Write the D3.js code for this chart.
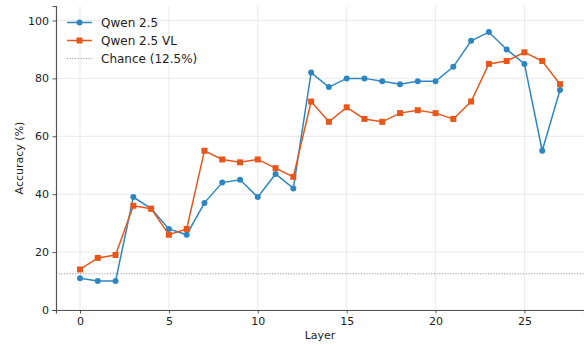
<!DOCTYPE html>
<html>
<head>
<meta charset="utf-8">
<script src="https://cdn.jsdelivr.net/npm/d3@7/dist/d3.min.js"></script>
<style>
  html, body { margin: 0; padding: 0; background: #fff; }
  svg { display: block; font-family: "DejaVu Sans", sans-serif; }
</style>
</head>
<body>
<svg id="chart" width="584" height="346"></svg>
<script>
// Layer-wise probing accuracy
const layers = d3.range(0, 28);
const qwen25 = [11, 10, 10, 39, 35, 28, 26, 37, 44, 45, 39, 47, 42, 82, 77, 80, 80, 79, 78, 79, 79, 84, 93, 96, 90, 85, 55, 76];
const qwen25vl = [14, 18, 19, 36, 35, 26, 28, 55, 52, 51, 52, 49, 46, 72, 65, 70, 66, 65, 68, 69, 68, 66, 72, 85, 86, 89, 86, 78];
const chance = 12.5;
const xTicks = [0, 5, 10, 15, 20, 25];
const yTicks = [0, 20, 40, 60, 80, 100];
const seriesNames = ["Qwen 2.5", "Qwen 2.5 VL", "Chance (12.5%)"];

const blue = "#2E86C1";
const orange = "#E8561A";

const svg = d3.select("#chart");
const m = { left: 56, right: 0, top: 6, bottom: 36 };
const W = 584, H = 346;

const x = d3.scaleLinear().domain([-1.35, 28.35]).range([m.left, W - m.right]);
const y = d3.scaleLinear().domain([0, 105]).range([H - m.bottom, m.top]);

// grid
const grid = svg.append("g");
grid.selectAll("line.gx").data(xTicks).join("line")
  .attr("x1", d => x(d)).attr("x2", d => x(d))
  .attr("y1", y(0)).attr("y2", y(105))
  .attr("stroke", "#e3e3e3").attr("stroke-width", 0.8);
grid.selectAll("line.gy").data(yTicks).join("line")
  .attr("x1", x(-1.35)).attr("x2", x(28.35))
  .attr("y1", d => y(d)).attr("y2", d => y(d))
  .attr("stroke", "#e3e3e3").attr("stroke-width", 0.8);

// chance line
svg.append("line")
  .attr("x1", x(-1.35)).attr("x2", x(28.35))
  .attr("y1", y(chance)).attr("y2", y(chance))
  .attr("stroke", "#888").attr("stroke-width", 1)
  .attr("stroke-dasharray", "1,1.7");

// axes
const xAxis = d3.axisBottom(x).tickValues(xTicks).tickSize(3.5).tickPadding(3.5);
const yAxis = d3.axisLeft(y).tickValues(yTicks).tickSize(3.5).tickPadding(3.5);

const gx = svg.append("g").attr("transform", `translate(0,${y(0)})`).call(xAxis);
const gy = svg.append("g").attr("transform", `translate(${m.left},0)`).call(yAxis);
[gx, gy].forEach(g => {
  g.selectAll("text").attr("font-size", 11).attr("fill", "#222").attr("font-family", "DejaVu Sans, sans-serif");
  g.selectAll(".tick line").attr("stroke", "#333").attr("stroke-width", 0.8);
  g.select(".domain").attr("stroke", "#555").attr("stroke-width", 1.2);
});

// axis labels
svg.append("text").attr("x", (m.left + W) / 2).attr("y", 339)
  .attr("text-anchor", "middle").attr("font-size", 11).attr("fill", "#222").text("Layer");
svg.append("text")
  .attr("transform", `translate(23,${(y(0) + y(105)) / 2}) rotate(-90)`)
  .attr("text-anchor", "middle").attr("font-size", 11).attr("fill", "#222").text("Accuracy (%)");

// series
const line = d3.line().x((d, i) => x(layers[i])).y(d => y(d));

svg.append("path").datum(qwen25).attr("d", line)
  .attr("fill", "none").attr("stroke", blue).attr("stroke-width", 1.5);
svg.append("g").selectAll("circle").data(qwen25).join("circle")
  .attr("cx", (d, i) => x(layers[i])).attr("cy", d => y(d)).attr("r", 3)
  .attr("fill", blue);

svg.append("path").datum(qwen25vl).attr("d", line)
  .attr("fill", "none").attr("stroke", orange).attr("stroke-width", 1.5);
const s = 6;
svg.append("g").selectAll("rect").data(qwen25vl).join("rect")
  .attr("x", (d, i) => x(layers[i]) - s / 2).attr("y", d => y(d) - s / 2)
  .attr("width", s).attr("height", s).attr("fill", orange);

// legend
const lg = svg.append("g").attr("transform", "translate(67,22.5)");
const rowH = 18;
lg.append("line").attr("x1", 0).attr("x2", 25).attr("y1", 0).attr("y2", 0)
  .attr("stroke", blue).attr("stroke-width", 1.5);
lg.append("circle").attr("cx", 12.5).attr("cy", 0).attr("r", 3).attr("fill", blue);
lg.append("line").attr("x1", 0).attr("x2", 25).attr("y1", rowH).attr("y2", rowH)
  .attr("stroke", orange).attr("stroke-width", 1.5);
lg.append("rect").attr("x", 12.5 - s / 2).attr("y", rowH - s / 2).attr("width", s).attr("height", s).attr("fill", orange);
lg.append("line").attr("x1", 0).attr("x2", 25).attr("y1", rowH * 2).attr("y2", rowH * 2)
  .attr("stroke", "#888").attr("stroke-width", 1).attr("stroke-dasharray", "1,1.7");
lg.selectAll("text").data(seriesNames).join("text")
  .attr("x", 34).attr("y", (d, i) => i * rowH).attr("dy", "0.35em")
  .attr("font-size", 12).attr("fill", "#222").text(d => d);
</script>
</body>
</html>
